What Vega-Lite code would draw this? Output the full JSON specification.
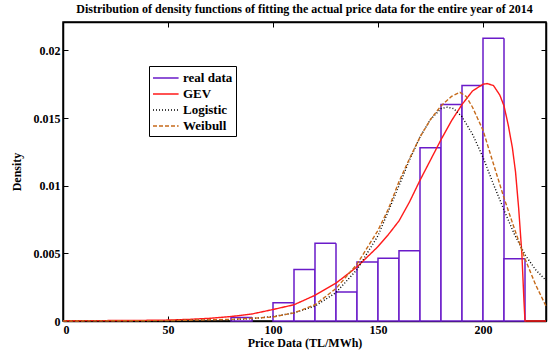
{
  "$schema": "https://vega.github.io/schema/vega-lite/v6.json",
  "width": 483,
  "height": 299,
  "autosize": {"type": "none"},
  "padding": {"left": 63, "top": 22, "right": 5, "bottom": 38},
  "background": "white",
  "title": {"text": "Distribution of density functions of fitting the actual price data for the entire year of 2014", "font": "Liberation Serif", "fontSize": 12, "fontWeight": "bold", "color": "black", "anchor": "middle", "offset": 6},
  "datasets": {
    "hist": [
      {"bin_start": 80, "bin_end": 90, "density": 0.00025, "series": "real data"},
      {"bin_start": 100, "bin_end": 110, "density": 0.00135, "series": "real data"},
      {"bin_start": 110, "bin_end": 120, "density": 0.0038, "series": "real data"},
      {"bin_start": 120, "bin_end": 130, "density": 0.00575, "series": "real data"},
      {"bin_start": 130, "bin_end": 140, "density": 0.00214, "series": "real data"},
      {"bin_start": 140, "bin_end": 150, "density": 0.00436, "series": "real data"},
      {"bin_start": 150, "bin_end": 160, "density": 0.00463, "series": "real data"},
      {"bin_start": 160, "bin_end": 170, "density": 0.0052, "series": "real data"},
      {"bin_start": 170, "bin_end": 180, "density": 0.0128, "series": "real data"},
      {"bin_start": 180, "bin_end": 190, "density": 0.016, "series": "real data"},
      {"bin_start": 190, "bin_end": 200, "density": 0.0174, "series": "real data"},
      {"bin_start": 200, "bin_end": 210, "density": 0.0209, "series": "real data"},
      {"bin_start": 210, "bin_end": 220, "density": 0.0046, "series": "real data"}
    ],
    "curves": [
      {"x": 0, "density": 0.00002, "series": "GEV"},
      {"x": 20, "density": 0.00003, "series": "GEV"},
      {"x": 40, "density": 0.00005, "series": "GEV"},
      {"x": 50, "density": 0.00007, "series": "GEV"},
      {"x": 60, "density": 0.00012, "series": "GEV"},
      {"x": 70, "density": 0.0002, "series": "GEV"},
      {"x": 80, "density": 0.00033, "series": "GEV"},
      {"x": 90, "density": 0.00052, "series": "GEV"},
      {"x": 100, "density": 0.00085, "series": "GEV"},
      {"x": 110, "density": 0.0012, "series": "GEV"},
      {"x": 120, "density": 0.0019, "series": "GEV"},
      {"x": 130, "density": 0.0028, "series": "GEV"},
      {"x": 140, "density": 0.004, "series": "GEV"},
      {"x": 150, "density": 0.0055, "series": "GEV"},
      {"x": 155, "density": 0.0064, "series": "GEV"},
      {"x": 160, "density": 0.0074, "series": "GEV"},
      {"x": 165, "density": 0.0088, "series": "GEV"},
      {"x": 170, "density": 0.0104, "series": "GEV"},
      {"x": 175, "density": 0.0119, "series": "GEV"},
      {"x": 180, "density": 0.0134, "series": "GEV"},
      {"x": 185, "density": 0.0148, "series": "GEV"},
      {"x": 190, "density": 0.016, "series": "GEV"},
      {"x": 195, "density": 0.017, "series": "GEV"},
      {"x": 200, "density": 0.0175, "series": "GEV"},
      {"x": 202, "density": 0.01755, "series": "GEV"},
      {"x": 205, "density": 0.0174, "series": "GEV"},
      {"x": 208, "density": 0.0167, "series": "GEV"},
      {"x": 210, "density": 0.0159, "series": "GEV"},
      {"x": 212, "density": 0.0145, "series": "GEV"},
      {"x": 214, "density": 0.0128, "series": "GEV"},
      {"x": 215.5, "density": 0.011, "series": "GEV"},
      {"x": 217, "density": 0.0083, "series": "GEV"},
      {"x": 218.5, "density": 0.005, "series": "GEV"},
      {"x": 219.5, "density": 0.0015, "series": "GEV"},
      {"x": 220, "density": 0, "series": "GEV"},
      {"x": 230, "density": 0, "series": "GEV"},
      {"x": 0, "density": 0, "series": "Logistic"},
      {"x": 50, "density": 0.00002, "series": "Logistic"},
      {"x": 80, "density": 0.0001, "series": "Logistic"},
      {"x": 90, "density": 0.00018, "series": "Logistic"},
      {"x": 100, "density": 0.00033, "series": "Logistic"},
      {"x": 110, "density": 0.0006, "series": "Logistic"},
      {"x": 120, "density": 0.0011, "series": "Logistic"},
      {"x": 130, "density": 0.0021, "series": "Logistic"},
      {"x": 140, "density": 0.0038, "series": "Logistic"},
      {"x": 150, "density": 0.0063, "series": "Logistic"},
      {"x": 160, "density": 0.01, "series": "Logistic"},
      {"x": 165, "density": 0.0119, "series": "Logistic"},
      {"x": 170, "density": 0.0136, "series": "Logistic"},
      {"x": 175, "density": 0.0149, "series": "Logistic"},
      {"x": 180, "density": 0.0157, "series": "Logistic"},
      {"x": 183, "density": 0.0158, "series": "Logistic"},
      {"x": 186, "density": 0.0157, "series": "Logistic"},
      {"x": 190, "density": 0.0151, "series": "Logistic"},
      {"x": 195, "density": 0.0138, "series": "Logistic"},
      {"x": 200, "density": 0.0121, "series": "Logistic"},
      {"x": 205, "density": 0.0101, "series": "Logistic"},
      {"x": 210, "density": 0.0082, "series": "Logistic"},
      {"x": 215, "density": 0.0064, "series": "Logistic"},
      {"x": 220, "density": 0.0049, "series": "Logistic"},
      {"x": 225, "density": 0.0038, "series": "Logistic"},
      {"x": 230, "density": 0.003, "series": "Logistic"},
      {"x": 0, "density": 0, "series": "Weibull"},
      {"x": 50, "density": 0.00003, "series": "Weibull"},
      {"x": 80, "density": 0.00012, "series": "Weibull"},
      {"x": 90, "density": 0.0002, "series": "Weibull"},
      {"x": 100, "density": 0.0003, "series": "Weibull"},
      {"x": 110, "density": 0.0006, "series": "Weibull"},
      {"x": 120, "density": 0.0012, "series": "Weibull"},
      {"x": 130, "density": 0.0024, "series": "Weibull"},
      {"x": 140, "density": 0.0042, "series": "Weibull"},
      {"x": 150, "density": 0.0067, "series": "Weibull"},
      {"x": 155, "density": 0.0083, "series": "Weibull"},
      {"x": 160, "density": 0.0103, "series": "Weibull"},
      {"x": 165, "density": 0.012, "series": "Weibull"},
      {"x": 170, "density": 0.0136, "series": "Weibull"},
      {"x": 175, "density": 0.0149, "series": "Weibull"},
      {"x": 180, "density": 0.0159, "series": "Weibull"},
      {"x": 185, "density": 0.0166, "series": "Weibull"},
      {"x": 189, "density": 0.0169, "series": "Weibull"},
      {"x": 192, "density": 0.0166, "series": "Weibull"},
      {"x": 195, "density": 0.0158, "series": "Weibull"},
      {"x": 200, "density": 0.0141, "series": "Weibull"},
      {"x": 205, "density": 0.0116, "series": "Weibull"},
      {"x": 210, "density": 0.0091, "series": "Weibull"},
      {"x": 215, "density": 0.0068, "series": "Weibull"},
      {"x": 220, "density": 0.0046, "series": "Weibull"},
      {"x": 225, "density": 0.0027, "series": "Weibull"},
      {"x": 230, "density": 0.0011, "series": "Weibull"}
    ]
  },
  "layer": [
    {
      "data": {"name": "hist"},
      "mark": {"type": "bar", "fill": "white", "strokeWidth": 1.5},
      "encoding": {
        "x": {"field": "bin_start", "type": "quantitative", "scale": {"domain": [0, 230], "nice": false},
          "axis": {"values": [0, 50, 100, 150, 200], "title": "Price Data (TL/MWh)", "tickSize": -5, "labelPadding": 8, "titlePadding": 2}},
        "x2": {"field": "bin_end"},
        "y": {"field": "density", "type": "quantitative", "scale": {"domain": [0, 0.0221], "nice": false},
          "axis": {"values": [0, 0.005, 0.01, 0.015, 0.02], "format": "~g", "title": "Density", "tickSize": -5, "labelPadding": 8, "titlePadding": 10}},
        "y2": {"datum": 0},
        "stroke": {"field": "series", "type": "nominal",
          "scale": {"domain": ["real data", "GEV", "Logistic", "Weibull"], "range": ["#6a1bc9", "#ff1a1a", "#000000", "#c66a1a"]},
          "legend": {"title": null, "orient": "none", "legendX": 86, "legendY": 44, "labelExpr": "datum.label + '\u00a0\u00a0\u00a0\u00a0'"}},
        "strokeDash": {"field": "series", "type": "nominal",
          "scale": {"domain": ["real data", "GEV", "Logistic", "Weibull"], "range": [[1, 0], [1, 0], [1, 2], [4, 2]]},
          "legend": {"title": null, "orient": "none", "legendX": 86, "legendY": 44, "labelExpr": "datum.label + '\u00a0\u00a0\u00a0\u00a0'"}}
      }
    },
    {
      "data": {"name": "curves"},
      "mark": {"type": "line", "strokeWidth": 1.4},
      "encoding": {
        "x": {"field": "x", "type": "quantitative", "axis": {"orient": "top", "values": [0, 50, 100, 150, 200], "labels": false, "title": null, "tickSize": -5}},
        "y": {"field": "density", "type": "quantitative", "axis": {"orient": "right", "values": [0, 0.005, 0.01, 0.015, 0.02], "labels": false, "title": null, "tickSize": -5}},
        "stroke": {"field": "series", "type": "nominal"},
        "strokeDash": {"field": "series", "type": "nominal"},
        "detail": {"field": "series"}
      }
    }
  ],
  "resolve": {"axis": {"x": "independent", "y": "independent"}},
  "config": {
    "view": {"stroke": "black", "strokeWidth": 1.5},
    "axis": {
      "grid": false,
      "domainColor": "black",
      "domainWidth": 1.5,
      "tickColor": "black",
      "tickWidth": 1,
      "labelFont": "Liberation Serif",
      "labelFontWeight": "bold",
      "labelFontSize": 12,
      "labelColor": "black",
      "titleFont": "Liberation Serif",
      "titleFontWeight": "bold",
      "titleFontSize": 12,
      "titleColor": "black"
    },
    "legend": {
      "symbolType": "M-1,0H2.2",
      "symbolSize": 256,
      "symbolStrokeWidth": 1.5,
      "labelFont": "Liberation Serif",
      "labelFontWeight": "bold",
      "labelFontSize": 13,
      "labelColor": "black",
      "labelOffset": 13,
      "fillColor": "white",
      "strokeColor": "black",
      "padding": 3,
      "rowPadding": 0
    }
  }
}
